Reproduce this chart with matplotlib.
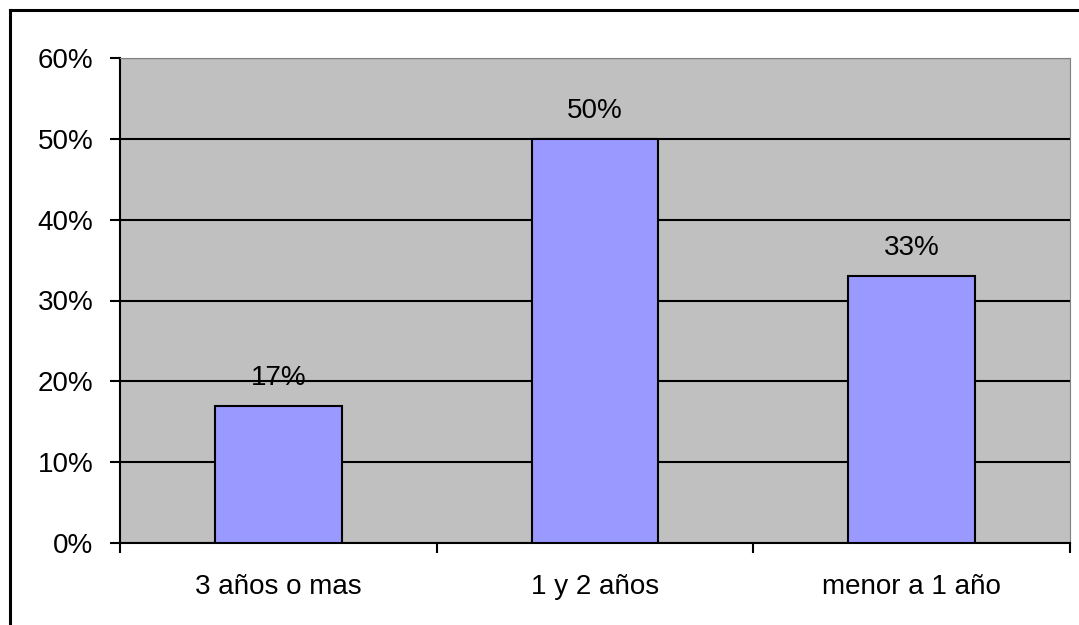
import numpy as np
import matplotlib.pyplot as plt
from matplotlib.lines import Line2D

plt.rcParams['font.family'] = ['Liberation Sans', 'DejaVu Sans']

categorias = ["3 años o mas", "1 y 2 años", "menor a 1 año"]
valores = [17, 50, 33]
ticks_y = [0, 10, 20, 30, 40, 50, 60]

fig = plt.figure(figsize=(10.79, 6.25), dpi=100)
ax = fig.add_axes([120/1079, 1-543/625, 950/1079, 485/625])
ax.set_facecolor('#C0C0C0')

x = np.arange(len(categorias))
ax.bar(x, valores, width=0.4, color='#9999FF', edgecolor='black', linewidth=1.5, zorder=3)

for xi, v in zip(x, valores):
    ax.annotate(f"{v}%", (xi, v), xytext=(0, 21), textcoords='offset pixels',
                ha='center', va='baseline', fontsize=20, zorder=4)

ax.set_xlim(-0.5, 2.5)
ax.set_ylim(0, 60)
ax.set_yticks(ticks_y)
ax.set_yticklabels([f"{t}%" for t in ticks_y])
ax.yaxis.grid(True, color='black', linewidth=1.5, zorder=1)
ax.set_axisbelow(True)

# ticks en los limites de categoria, etiquetas centradas
ax.set_xticks([-0.5, 0.5, 1.5, 2.5])
ax.set_xticklabels([])
ax.set_xticks(x, minor=True)
ax.set_xticklabels(categorias, minor=True)
ax.tick_params(axis='x', which='minor', length=0, pad=22, labelsize=20)
ax.tick_params(axis='x', which='major', length=7, width=1.5, direction='out')
ax.tick_params(axis='y', length=7, width=1.5, direction='out', pad=12, labelsize=20)

ax.spines['left'].set_color('black')
ax.spines['left'].set_linewidth(1.5)
ax.spines['bottom'].set_color('black')
ax.spines['bottom'].set_linewidth(1.5)
ax.spines['top'].set_color('#808080')
ax.spines['right'].set_color('#808080')

# borde del grafico (cortado a la derecha y abajo)
fig.add_artist(Line2D([10/1079, 10/1079], [0, 1-10/625], color='black', linewidth=2.2))
fig.add_artist(Line2D([10/1079, 1], [1-10/625, 1-10/625], color='black', linewidth=2.2))

plt.savefig("out.png", dpi=100)
